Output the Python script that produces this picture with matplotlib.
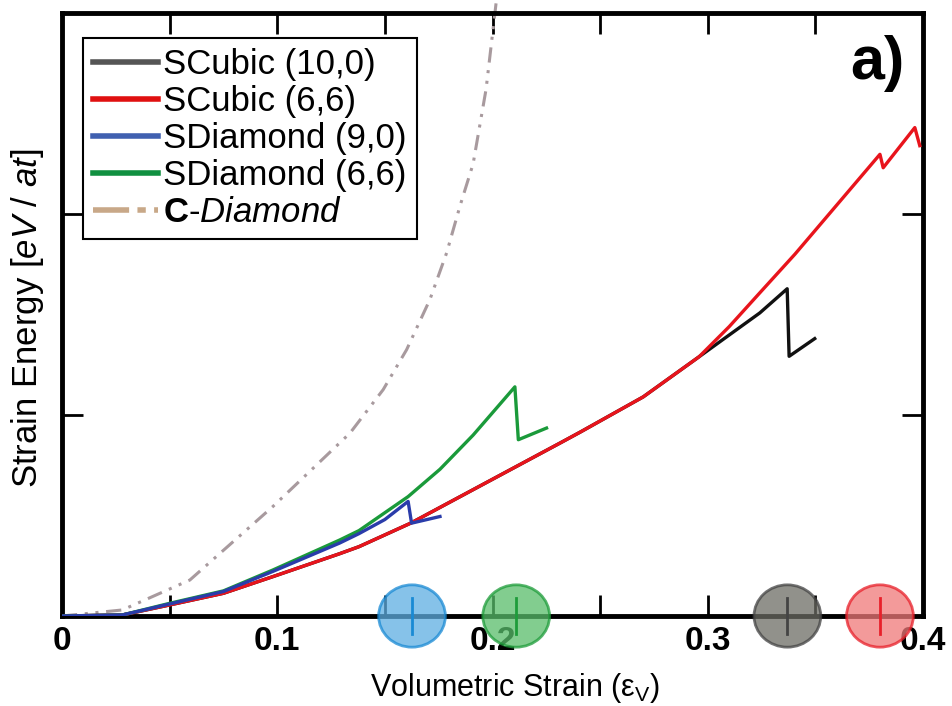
import matplotlib
matplotlib.use("Agg")
import matplotlib.pyplot as plt
from matplotlib.patches import Ellipse
from matplotlib.lines import Line2D

plt.rcParams['font.family'] = ['Liberation Sans', 'DejaVu Sans']
plt.rcParams['mathtext.fontset'] = 'custom'
plt.rcParams['mathtext.rm'] = 'Liberation Sans'
plt.rcParams['mathtext.it'] = 'Liberation Sans:italic'
plt.rcParams['mathtext.bf'] = 'Liberation Sans:bold'

# values
strain_cubic_100 = [0, 0.028, 0.05, 0.075, 0.098, 0.129, 0.138, 0.162, 0.2313, 0.2406, 0.27, 0.296, 0.3242, 0.3369, 0.3378, 0.3497]
energy_cubic_100 = [0, 0.005, 0.055, 0.113, 0.196, 0.31, 0.345, 0.462, 0.860, 0.914, 1.09, 1.29, 1.508, 1.628, 1.292, 1.380]

strain_cubic_66 = [0, 0.028, 0.05, 0.075, 0.098, 0.129, 0.138, 0.162, 0.2313, 0.2406, 0.27, 0.296, 0.31, 0.3242, 0.3405, 0.380, 0.3815, 0.3962, 0.3985]
energy_cubic_66 = [0, 0.005, 0.055, 0.113, 0.196, 0.31, 0.345, 0.462, 0.860, 0.914, 1.09, 1.29, 1.44, 1.608, 1.80, 2.297, 2.23, 2.43, 2.34]

strain_diam_90 = [0, 0.028, 0.05, 0.075, 0.098, 0.129, 0.138, 0.15, 0.1608, 0.1624, 0.1756]
energy_diam_90 = [0, 0.005, 0.060, 0.122, 0.222, 0.363, 0.41, 0.48, 0.570, 0.462, 0.495]

strain_diam_66 = [0, 0.028, 0.05, 0.075, 0.098, 0.129, 0.138, 0.1608, 0.1756, 0.191, 0.2104, 0.2120, 0.2251]
energy_diam_66 = [0, 0.005, 0.063, 0.125, 0.229, 0.378, 0.425, 0.594, 0.73, 0.90, 1.14, 0.877, 0.935]

strain_cdiam = [0, 0.028, 0.0594, 0.098, 0.1338, 0.1492, 0.1601, 0.1709, 0.1787, 0.1849, 0.191, 0.197, 0.2006, 0.2022]
energy_cdiam = [0, 0.03, 0.179, 0.545, 0.910, 1.126, 1.325, 1.574, 1.807, 2.04, 2.25, 2.62, 2.95, 3.10]

# failure strain markers on the x axis
fail_strain = [0.1626, 0.211, 0.337, 0.380]
fail_fill = ['#5eaee2', '#58bd6a', '#6c6c64', '#f07878']
fail_edge = ['#1a8ad4', '#1e9c3a', '#444444', '#e8202a']

labels = ['SCubic (10,0)', 'SCubic (6,6)', 'SDiamond (9,0)', 'SDiamond (6,6)',
          r'$\mathbf{C}$-$\mathit{Diamond}$']
xtick_vals = [0, 0.1, 0.2, 0.3, 0.4]
xtick_labels = ['0', '0.1', '0.2', '0.3', '0.4']

fig = plt.figure(figsize=(9.52, 7.06), dpi=100)
ax = fig.add_axes([62/952, 90/706, 861/952, 603/706])

dash = (5, 2.5, 1, 2.5, 1, 2.5)
ax.plot(strain_cdiam, energy_cdiam, color='#a89a9e', lw=2.2, dashes=dash, clip_on=False, zorder=2)
ax.plot(strain_cubic_100, energy_cubic_100, color='#111111', lw=2.4, zorder=3)
ax.plot(strain_cubic_66, energy_cubic_66, color='#e8141c', lw=2.4, zorder=3)
ax.plot(strain_diam_66, energy_diam_66, color='#1a9a3a', lw=2.4, zorder=3)
ax.plot(strain_diam_90, energy_diam_90, color='#2a3caa', lw=2.4, zorder=3)

for xs, fc, ec in zip(fail_strain, fail_fill, fail_edge):
    e = Ellipse((xs, 0), 0.031, 0.31, facecolor=fc, edgecolor=ec, lw=2, alpha=0.75,
                clip_on=False, zorder=5)
    ax.add_patch(e)
    ax.plot([xs, xs], [-0.09, 0.09], color=ec, lw=2, clip_on=False, zorder=6)

ax.set_xlim(0, 0.4)
ax.set_ylim(0, 3.0)
ax.set_xticks(xtick_vals)
ax.set_xticklabels(xtick_labels)
ax.set_xticks([0.05, 0.15, 0.25, 0.35], minor=True)
ax.set_yticks([1, 2])
ax.set_yticklabels([])
ax.tick_params(axis='both', which='both', direction='in', width=2, length=15,
               top=True, right=True)
ax.tick_params(axis='x', which='both', labelsize=24, pad=7)
for lab in ax.get_xticklabels():
    lab.set_fontweight('bold')
for sp in ax.spines.values():
    sp.set_linewidth(3.5)

ax.set_xlabel(r'Volumetric Strain (ε$_\mathregular{V}$)', fontsize=22)
ax.xaxis.set_label_coords(0.526, -0.119)
ax.xaxis.label.set_va('center')
ax.set_ylabel(r'Strain Energy [$\mathit{eV\ /\ at}$]', fontsize=25)
ax.yaxis.set_label_coords(-0.040, 0.494)
ax.yaxis.label.set_va('center')

fig.text(877/952, 1 - 63/706, 'a)', fontsize=44, fontweight='bold', ha='center', va='center')

handles = [Line2D([], [], color='#555555', lw=4),
           Line2D([], [], color='#e01010', lw=4),
           Line2D([], [], color='#4060b0', lw=4),
           Line2D([], [], color='#109040', lw=4),
           Line2D([], [], color='#c8a888', lw=4, dashes=(6.5, 1.5, 1.5, 1.5))]
leg = ax.legend(handles, labels, loc='upper left', bbox_to_anchor=(83/952, 1 - 38/706),
                bbox_transform=fig.transFigure, borderaxespad=0, fontsize=25,
                handlelength=1.85, handletextpad=0.15, labelspacing=0.11,
                borderpad=0.3, fancybox=False, framealpha=1, edgecolor='black')
leg.get_frame().set_linewidth(1.5)

fig.savefig('out.png', dpi=100)
